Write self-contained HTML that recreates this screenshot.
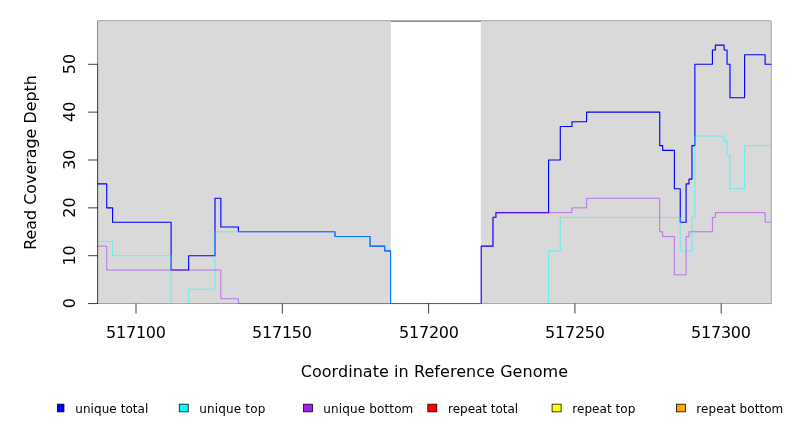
<!DOCTYPE html>
<html><head><meta charset="utf-8"><title>Read Coverage Depth</title>
<style>
html,body{margin:0;padding:0;background:#fff;}
svg{display:block;}
text{font-family:"DejaVu Sans","Liberation Sans",sans-serif;fill:#000;}
.ax{font-size:16px;}
.lg{font-size:12px;}
.ln{fill:none;stroke-linejoin:round;stroke-linecap:round;}
</style></head><body>
<svg width="792" height="432" viewBox="0 0 792 432">
<rect x="0" y="0" width="792" height="432" fill="#fff"/>
<path d="M97.6,64.30V21.1H770.9V303.55" fill="none" stroke="#000" stroke-width="0.75"/>
<rect x="97.6" y="21.1" width="293.25" height="282.45" fill="#d9d9d9"/>
<rect x="480.8" y="21.1" width="290.10" height="282.45" fill="#d9d9d9"/>
<path class="ln" d="M97.6,303.55H770.9" stroke="#ff0000" stroke-width="1.125"/>
<path class="ln" d="M97.6,303.55H770.9" stroke="#ffff00" stroke-opacity="0.7" stroke-width="0.75"/>
<path class="ln" d="M97.6,303.55H770.9" stroke="#ffa500" stroke-opacity="0.7" stroke-width="0.75"/>
<path class="ln" d="M97.60,183.93H106.74V207.85H112.59V222.21H171.11V270.06H188.67V255.70H215.00V198.28H220.85V226.99H238.41V231.78H334.97V236.56H370.08V246.13H384.71V250.92H390.56V303.55H481.27V246.13H492.97V217.42H495.90V212.63H548.57V160.00H560.27V126.50H571.97V121.72H586.60V112.15H659.75V145.65H662.68V150.43H674.38V188.71H680.24V222.21H686.09V183.93H689.01V179.14H691.94V145.65H694.87V64.30H712.42V49.94H715.35V45.16H724.13V49.94H727.05V64.30H729.98V97.80H744.61V54.73H765.09V64.30H770.90" stroke="#0000ff" stroke-width="1.125"/>
<path class="ln" d="M97.60,241.35H112.59V255.70H171.11V303.55H188.67V289.19H215.00V231.78H334.97V236.56H370.08V246.13H384.71V250.92H390.56V303.55H548.57V250.92H560.27V217.42H680.24V250.92H691.94V217.42H694.87V136.08H724.13V140.86H727.05V155.22H729.98V188.71H744.61V145.65H770.90" stroke="#00ffff" stroke-opacity="0.7" stroke-width="0.75"/>
<path class="ln" d="M97.60,246.13H106.74V270.06H220.85V298.76H238.41V303.55H481.27V246.13H492.97V217.42H495.90V212.63H571.97V207.85H586.60V198.28H659.75V231.78H662.68V236.56H674.38V274.84H686.09V236.56H689.01V231.78H712.42V217.42H715.35V212.63H765.09V222.21H770.90" stroke="#a020f0" stroke-opacity="0.72" stroke-width="0.75"/>
<path d="M97.6,303.55V64.30" stroke="#000" stroke-width="0.75" fill="none"/>
<path d="M97.6,303.55H88.00" stroke="#000" stroke-width="0.75" fill="none"/>
<text class="ax" text-anchor="middle" transform="translate(74.6,303.25) rotate(-90)">0</text>
<path d="M97.6,255.70H88.00" stroke="#000" stroke-width="0.75" fill="none"/>
<text class="ax" text-anchor="middle" transform="translate(74.6,255.40) rotate(-90)">10</text>
<path d="M97.6,207.85H88.00" stroke="#000" stroke-width="0.75" fill="none"/>
<text class="ax" text-anchor="middle" transform="translate(74.6,207.55) rotate(-90)">20</text>
<path d="M97.6,160.00H88.00" stroke="#000" stroke-width="0.75" fill="none"/>
<text class="ax" text-anchor="middle" transform="translate(74.6,159.70) rotate(-90)">30</text>
<path d="M97.6,112.15H88.00" stroke="#000" stroke-width="0.75" fill="none"/>
<text class="ax" text-anchor="middle" transform="translate(74.6,111.85) rotate(-90)">40</text>
<path d="M97.6,64.30H88.00" stroke="#000" stroke-width="0.75" fill="none"/>
<text class="ax" text-anchor="middle" transform="translate(74.6,64.00) rotate(-90)">50</text>
<path d="M136.00,303.55V313.55" stroke="#000" stroke-width="0.75" fill="none"/>
<text class="ax" x="106.00" y="337.7" textLength="60" lengthAdjust="spacing">517100</text>
<path d="M282.30,303.55V313.55" stroke="#000" stroke-width="0.75" fill="none"/>
<text class="ax" x="252.00" y="337.7" textLength="60" lengthAdjust="spacing">517150</text>
<path d="M428.60,303.55V313.55" stroke="#000" stroke-width="0.75" fill="none"/>
<text class="ax" x="399.00" y="337.7" textLength="60" lengthAdjust="spacing">517200</text>
<path d="M574.90,303.55V313.55" stroke="#000" stroke-width="0.75" fill="none"/>
<text class="ax" x="545.00" y="337.7" textLength="60" lengthAdjust="spacing">517250</text>
<path d="M721.20,303.55V313.55" stroke="#000" stroke-width="0.75" fill="none"/>
<text class="ax" x="691.00" y="337.7" textLength="60" lengthAdjust="spacing">517300</text>
<text class="ax" x="300.65" y="377.35" textLength="267.4" lengthAdjust="spacing">Coordinate in Reference Genome</text>
<text class="ax" style="font-size:15.92px" text-anchor="middle" transform="translate(35.7,162.48) rotate(-90)">Read Coverage Depth</text>
<path d="M57,404.17H64.00V411.85H57" fill="#0000ff" stroke="#000" stroke-width="0.75"/>
<text class="lg" x="75.30" y="412.7" textLength="73" lengthAdjust="spacing">unique total</text>
<rect x="179.26" y="404.17" width="9.0" height="7.68" fill="#00ffff" stroke="#000" stroke-width="0.75"/>
<text class="lg" x="199.30" y="412.7" textLength="66" lengthAdjust="spacing">unique top</text>
<rect x="303.54" y="404.17" width="9.0" height="7.68" fill="#a020f0" stroke="#000" stroke-width="0.75"/>
<text class="lg" x="323.30" y="412.7" textLength="90" lengthAdjust="spacing">unique bottom</text>
<rect x="427.82" y="404.17" width="9.0" height="7.68" fill="#ff0000" stroke="#000" stroke-width="0.75"/>
<text class="lg" x="448.10" y="412.7" textLength="70" lengthAdjust="spacing">repeat total</text>
<rect x="552.10" y="404.17" width="9.0" height="7.68" fill="#ffff00" stroke="#000" stroke-width="0.75"/>
<text class="lg" x="572.30" y="412.7" textLength="63" lengthAdjust="spacing">repeat top</text>
<rect x="676.38" y="404.17" width="9.0" height="7.68" fill="#ffa500" stroke="#000" stroke-width="0.75"/>
<text class="lg" x="696.30" y="412.7" textLength="87" lengthAdjust="spacing">repeat bottom</text>
<rect x="419" y="403" width="2" height="1" fill="#d8d8d8"/>
</svg>
</body></html>
